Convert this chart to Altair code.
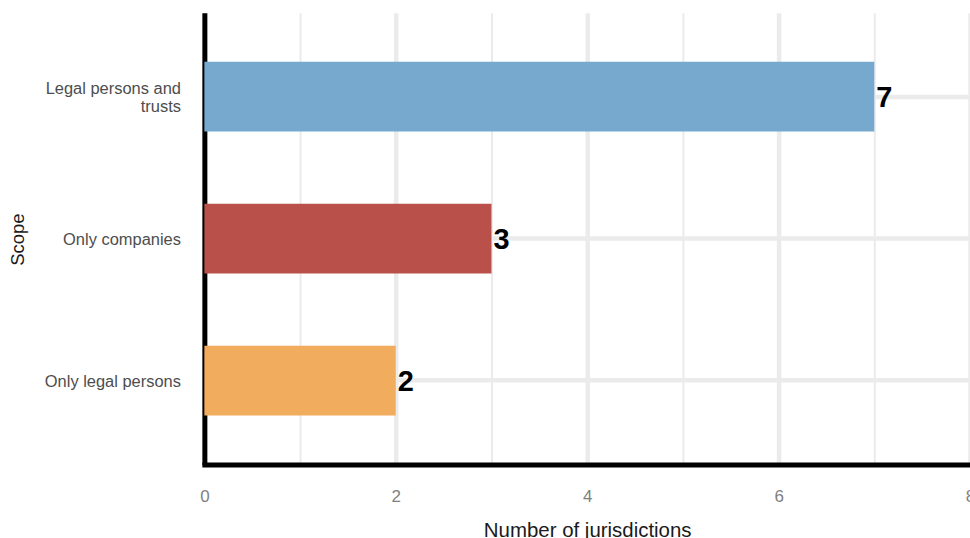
import altair as alt
import pandas as pd

# Number of jurisdictions by scope of the register
scopes = ["Legal persons and trusts", "Only companies", "Only legal persons"]
counts = [7, 3, 2]
colors = ["#77a9cf", "#b9514a", "#f2ac5d"]

df = pd.DataFrame({"scope": scopes, "count": counts})

regular = "Liberation Sans, Arial, Helvetica, sans-serif"

y_enc = alt.Y(
    "scope:N",
    sort=scopes,
    title="Scope",
    scale=alt.Scale(paddingInner=0.509, paddingOuter=0.344),
    axis=alt.Axis(
        bandPosition=0.5,
        tickExtra=False,
        grid=True,
        gridColor="#ebebeb",
        gridWidth=4.5,
        ticks=False,
        domain=True,
        domainColor="#000000",
        domainWidth=5,
        labelFont=regular,
        labelFontSize=16.5,
        labelColor="#4d4d4d",
        labelPadding=24,
        labelLineHeight=19,
        labelOffset=alt.ConditionalAxisNumber(
            condition={"test": "datum.value == 'Legal persons and trusts'", "value": -8},
            value=1,
        ),
        labelExpr="datum.label == 'Legal persons and trusts' ? ['Legal persons and', 'trusts'] : datum.label",
        titleFont=regular,
        titleFontSize=18.5,
        titleFontWeight="normal",
        titleColor="#1a1a1a",
        titleX=-187,
        titleY=227,
        titleAngle=270,
        titleAlign="center",
        titleBaseline="middle",
    ),
)

x_enc = alt.X(
    "count:Q",
    title="Number of jurisdictions",
    scale=alt.Scale(domain=[0, 8], nice=False),
    axis=alt.Axis(
        values=[0, 1, 2, 3, 4, 5, 6, 7, 8],
        format="d",
        labelExpr="datum.value % 2 == 0 ? datum.label : ''",
        grid=True,
        gridColor="#ebebeb",
        gridWidth=alt.ConditionalAxisNumber(
            condition={"test": "datum.value % 2 == 0", "value": 4.5}, value=2
        ),
        ticks=False,
        domain=True,
        domainColor="#000000",
        domainWidth=5,
        domainCap="square",
        labelFont=regular,
        labelFontSize=17,
        labelColor="#7f7f7f",
        labelPadding=24,
        labelFlush=False,
        titleFont=regular,
        titleFontSize=20.5,
        titleFontWeight="normal",
        titleColor="#1a1a1a",
        titleY=72,
        titleBaseline="alphabetic",
    ),
)

base = alt.Chart(df).encode(x=x_enc, y=y_enc)

bars = base.mark_bar(size=70).encode(
    color=alt.Color(
        "scope:N",
        scale=alt.Scale(domain=scopes, range=colors),
        legend=None,
    ),
)

labels = base.mark_text(
    align="left",
    baseline="middle",
    dx=2,
    dy=1,
    font=regular,
    fontSize=29,
    fontWeight="bold",
    color="#000000",
).encode(text="count:Q")

chart = (
    alt.layer(bars, labels)
    .properties(
        width=768,
        height=453,
        background="#ffffff",
        autosize=alt.AutoSizeParams(type="none"),
        padding={"left": 205, "top": 12, "right": 0, "bottom": 73},
    )
    .configure_view(strokeWidth=0, stroke="transparent")
)

chart.save("out.html", embed_options={"renderer": "svg", "actions": False})
